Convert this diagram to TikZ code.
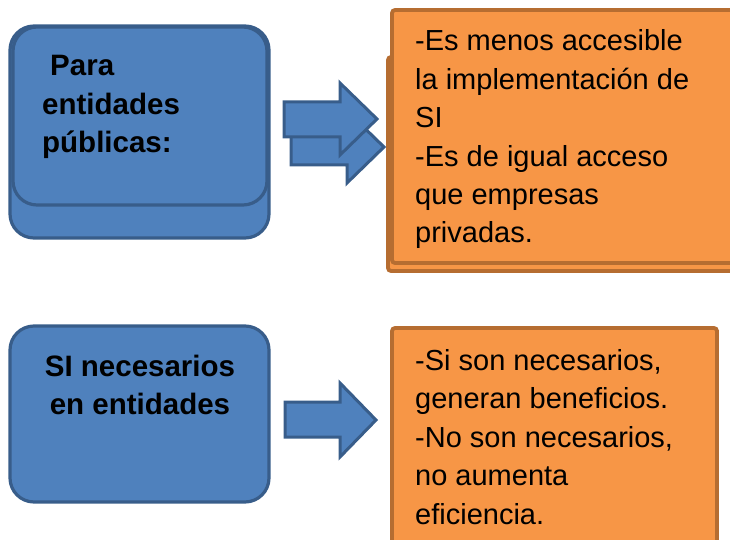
\documentclass[tikz,border=0pt]{standalone}
\usepackage{fontspec}
\setmainfont{Liberation Sans}
\definecolor{bfill}{HTML}{4F81BD}
\definecolor{bline}{HTML}{385D8A}
\definecolor{ofill}{HTML}{F79646}
\definecolor{oline}{HTML}{B66D31}
\tikzset{
  bluebox/.style={draw=bline, fill=bfill, line width=3.2pt, rounded corners=24pt, inner sep=0pt},
  orangebox/.style={draw=oline, fill=ofill, line width=3.8pt, rounded corners=3pt, inner sep=0pt},
  arrowshape/.style={draw=bline, fill=bfill, line width=3pt, line join=miter},
  txt/.style={inner sep=0pt, font=\fontsize{29}{38}\selectfont}
}
\begin{document}
\begin{tikzpicture}[x=1pt,y=-1pt]
\useasboundingbox (0,0) rectangle (730,540);
% top left blue stack
\node[bluebox, minimum width=259pt, minimum height=212pt] (b1back) at (139.5,132) {};
\node[bluebox, minimum width=254pt, minimum height=178pt] (b1) at (140,116) {};
\node[txt, anchor=base west] (b1t) at (42,76) {\parbox[t]{220pt}{\fontsize{29.5}{38.5}\selectfont\bfseries\raggedright\hspace*{8pt}Para\\entidades\\públicas:}};
% bottom left blue
\node[bluebox, minimum width=259pt, minimum height=176pt] (b2) at (139.5,414) {};
\node[txt, anchor=base] (b2t) at (140,376) {\parbox[t]{250pt}{\fontsize{29.5}{38}\selectfont\bfseries\centering SI necesarios\\en entidades}};
% top right orange stack
\node[orangebox, minimum width=360pt, minimum height=214pt] (o1back) at (568,164) {};
\node[orangebox, minimum width=356pt, minimum height=253pt] (o1) at (570,136.5) {};
\node[txt, anchor=base west] (o1t) at (415,51) {\parbox[t]{310pt}{\fontsize{29}{38.4}\selectfont\raggedright -Es menos accesible\\la implementación de\\SI\\-Es de igual acceso\\que empresas\\privadas.}};
% bottom right orange
\node[orangebox, minimum width=325pt, minimum height=232pt] (o2) at (554.5,444) {};
\node[txt, anchor=base west] (o2t) at (415,370) {\parbox[t]{300pt}{\fontsize{29}{38.6}\selectfont\raggedright -Si son necesarios,\\generan beneficios.\\-No son necesarios,\\no aumenta\\eficiencia.}};
% arrows
\draw[arrowshape] (291,130) -- (347,130) -- (347,111) -- (384,147) -- (347,183) -- (347,165) -- (291,165) -- cycle;
\draw[arrowshape] (284,102) -- (340,102) -- (340,83) -- (377,119) -- (340,155) -- (340,137) -- (284,137) -- cycle;
\draw[arrowshape] (285,402) -- (340,402) -- (340,383) -- (376,420) -- (340,457) -- (340,437) -- (285,437) -- cycle;
\end{tikzpicture}
\end{document}
